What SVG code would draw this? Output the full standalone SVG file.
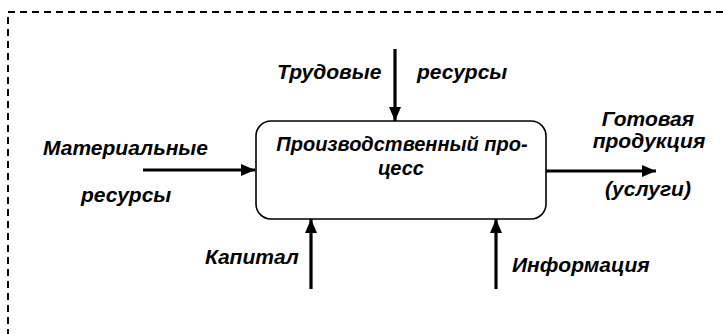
<svg xmlns="http://www.w3.org/2000/svg" width="723" height="334" viewBox="0 0 723 334">
  <style>
    .frame { fill: none; stroke: #000; stroke-width: 2; stroke-dasharray: 7 5; }
    .box { fill: #fff; stroke: #000; stroke-width: 1.6; }
    .flow { fill: none; stroke: #000; stroke-width: 3.2; }
    .lbl { font-family: "Liberation Sans", Arial, sans-serif; font-size: 21px; font-weight: bold; font-style: italic; fill: #000; }
    .inner { font-size: 20px; }
    .mid { text-anchor: middle; }
  </style>
  <defs>
    <marker id="head" viewBox="0 0 14 12" refX="14" refY="6" markerWidth="14" markerHeight="12" markerUnits="userSpaceOnUse" orient="auto">
      <path d="M0,0 L14,6 L0,12 Z" fill="#000"/>
    </marker>
  </defs>

  <!-- dashed enclosing frame (top and left sides only) -->
  <g id="frame">
    <path class="frame" d="M723,12 H8 V334"/>
  </g>

  <!-- flows into and out of the process -->
  <g id="connectors">
    <line class="flow" x1="395" y1="49" x2="395" y2="121" marker-end="url(#head)"/>
    <line class="flow" x1="143" y1="170" x2="255" y2="170" marker-end="url(#head)"/>
    <line class="flow" x1="546" y1="171" x2="656" y2="171" marker-end="url(#head)"/>
    <line class="flow" x1="311" y1="289" x2="311" y2="219" marker-end="url(#head)"/>
    <line class="flow" x1="496" y1="289" x2="496" y2="219" marker-end="url(#head)"/>
  </g>

  <g id="process">
    <rect class="box" x="256" y="121" width="290" height="98" rx="15" ry="15"/>
    <text class="lbl inner mid" x="402" y="151">Производственный про-</text>
    <text class="lbl inner mid" x="401" y="175">цесс</text>
  </g>

  <g id="labour">
    <text class="lbl" x="277" y="79">Трудовые</text>
    <text class="lbl" x="417" y="79">ресурсы</text>
  </g>

  <g id="materials">
    <text class="lbl" x="43" y="155">Материальные</text>
    <text class="lbl" x="81" y="202">ресурсы</text>
  </g>

  <g id="output">
    <text class="lbl mid" x="648" y="126">Готовая</text>
    <text class="lbl mid" x="649" y="148">продукция</text>
    <text class="lbl mid" x="648" y="196">(услуги)</text>
  </g>

  <g id="capital">
    <text class="lbl" x="205" y="264">Капитал</text>
  </g>

  <g id="information">
    <text class="lbl" x="512" y="272">Информация</text>
  </g>
</svg>
